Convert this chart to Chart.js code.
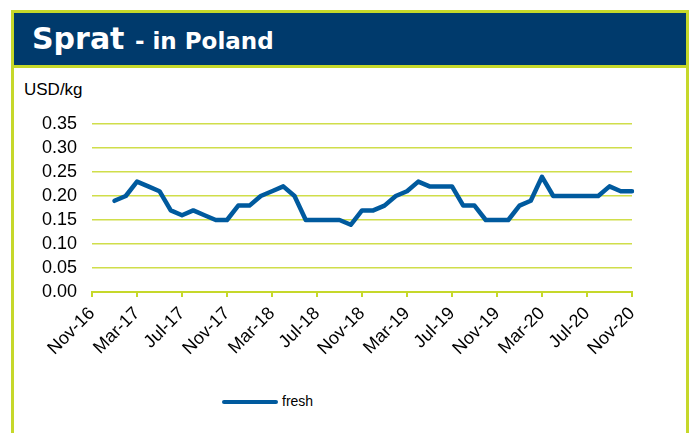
<!DOCTYPE html>
<html>
<head>
<meta charset="utf-8">
<script src="https://cdn.jsdelivr.net/npm/chart.js@4"></script>
<style>
  html, body { margin: 0; padding: 0; background: #fff; }
  body { width: 690px; height: 433px; position: relative; overflow: hidden; font-family: "Liberation Sans", Arial, sans-serif; }
  #frame { position: absolute; left: 11px; top: 10px; width: 672px; height: 440px; border: 3px solid #c6d82a; border-bottom: none; }
  #header { position: absolute; left: 0; top: 0; width: 672px; height: 52px; background: #003a6c; border-bottom: 3px solid #c6d82a; }
  #title { position: absolute; left: 18px; top: 8px; color: #fff; font-family: "DejaVu Sans", sans-serif; font-weight: bold; font-size: 30px; white-space: nowrap; }
  #title small { font-size: 23px; }
  #unit { position: absolute; left: 10px; top: 67px; font-size: 17px; color: #000; }
  #chartBox { position: absolute; left: 0; top: 55px; width: 672px; height: 310px; }
  #legend { position: absolute; left: 208px; top: 380px; font-size: 14px; color: #000; }
  #legend span.line { display: inline-block; width: 56px; height: 4px; border-radius: 2px; background: #005a9e; vertical-align: middle; margin-right: 4px; }
</style>
</head>
<body>
<div id="frame">
  <div id="header"><div id="title">Sprat <small>- in Poland</small></div></div>
  <div id="unit">USD/kg</div>
  <div id="chartBox"><canvas id="spratChart"></canvas></div>
  <div id="legend"><span class="line"></span>fresh</div>
</div>
<script>
// months on the axis, Nov-16 .. Nov-20
const months = [
  'Nov-16', 'Dec-16',
  'Jan-17', 'Feb-17', 'Mar-17', 'Apr-17', 'May-17', 'Jun-17', 'Jul-17', 'Aug-17', 'Sep-17', 'Oct-17', 'Nov-17', 'Dec-17',
  'Jan-18', 'Feb-18', 'Mar-18', 'Apr-18', 'May-18', 'Jun-18', 'Jul-18', 'Aug-18', 'Sep-18', 'Oct-18', 'Nov-18', 'Dec-18',
  'Jan-19', 'Feb-19', 'Mar-19', 'Apr-19', 'May-19', 'Jun-19', 'Jul-19', 'Aug-19', 'Sep-19', 'Oct-19', 'Nov-19', 'Dec-19',
  'Jan-20', 'Feb-20', 'Mar-20', 'Apr-20', 'May-20', 'Jun-20', 'Jul-20', 'Aug-20', 'Sep-20', 'Oct-20', 'Nov-20'
];

// fresh sprat price, USD/kg (no data for Nov-16, Dec-16)
const fresh = [
  null, null,
  0.19, 0.20, 0.23, 0.22, 0.21, 0.17, 0.16, 0.17, 0.16, 0.15, 0.15, 0.18,
  0.18, 0.20, 0.21, 0.22, 0.20, 0.15, 0.15, 0.15, 0.15, 0.14, 0.17, 0.17,
  0.18, 0.20, 0.21, 0.23, 0.22, 0.22, 0.22, 0.18, 0.18, 0.15, 0.15, 0.15,
  0.18, 0.19, 0.24, 0.20, 0.20, 0.20, 0.20, 0.20, 0.22, 0.21, 0.21
];

const yTicks = [0, 0.05, 0.10, 0.15, 0.20, 0.25, 0.30, 0.35];

const green = '#c6d82a';
const gridGreen = '#d0de4a';

const ctx = document.getElementById('spratChart').getContext('2d');
new Chart(ctx, {
    type: 'line',
    data: {
        labels: months,
        datasets: [{
            label: 'fresh',
            data: fresh,
            borderColor: '#005a9e',
            borderWidth: 4.5,
            borderJoinStyle: 'round',
            borderCapStyle: 'round',
            pointRadius: 0,
            tension: 0,
            fill: false
        }]
    },
    options: {
        responsive: true,
        maintainAspectRatio: false,
        animation: false,
        layout: { padding: { top: 56, right: 54, left: 0, bottom: 0 } },
        plugins: { legend: { display: false }, tooltip: { enabled: false } },
        scales: {
            x: {
                offset: false,
                afterFit: function (scale) { scale.height = 86; },
                grid: { drawOnChartArea: false, color: green, lineWidth: 2, tickLength: 5 },
                border: { color: green, width: 2 },
                ticks: {
                    autoSkip: false,
                    maxRotation: 45,
                    minRotation: 45,
                    color: '#000',
                    font: { family: 'Liberation Sans', size: 18 },
                    padding: 6,
                    callback: function (val, i) { return i % 4 === 0 ? months[i] : null; }
                }
            },
            y: {
                min: 0,
                max: 0.35,
                afterFit: function (scale) { scale.width = 78; },
                afterBuildTicks: function (scale) { scale.ticks = yTicks.map(v => ({ value: v })); },
                grid: { color: gridGreen, lineWidth: 1.5, drawTicks: false },
                border: { display: false },
                ticks: {
                    autoSkip: false,
                    color: '#000',
                    padding: 15,
                    font: { family: 'Liberation Sans', size: 18 },
                    callback: v => v.toFixed(2)
                }
            }
        }
    }
});
</script>
</body>
</html>
